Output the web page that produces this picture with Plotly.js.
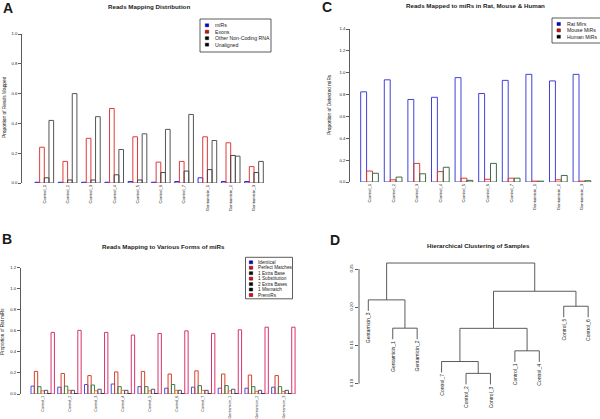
<!DOCTYPE html>
<html><head><meta charset="utf-8">
<script src="https://cdn.plot.ly/plotly-3.0.1.min.js"></script>
<style>html,body{margin:0;padding:0;background:#fff}#chart{width:600px;height:419px}</style>
</head><body><div id="chart"></div>
<script>
// ---------- shared categories ----------
const samples = ["Control_1","Control_2","Control_3","Control_4","Control_5","Control_6","Control_7","Gentamicin_1","Gentamicin_2","Gentamicin_3"];

// ---------- Panel A: Reads Mapping Distribution ----------
const mappingSeries = ["miRs","Exons","Other Non-Coding RNA","Unaligned"];
const mirs      = [0.005,0.005,0.005,0.005,0.010,0.005,0.010,0.035,0.010,0.010];
const exons     = [0.240,0.145,0.300,0.500,0.310,0.140,0.145,0.310,0.270,0.110];
const otherNC   = [0.035,0.020,0.020,0.055,0.020,0.070,0.080,0.090,0.185,0.070];
const unaligned = [0.420,0.600,0.445,0.225,0.330,0.360,0.460,0.285,0.180,0.145];
const aTicks = [0,0.2,0.4,0.6,0.8,1.0];

// ---------- Panel B: Reads Mapping to Various Forms of miRs ----------
const formSeries = ["Identical","Perfect Matches","1 Extra Base","1 Substitution","2 Extra Bases","1 Mismatch","PremiRs"];
const identical      = [0.075,0.065,0.090,0.095,0.070,0.055,0.065,0.055,0.055,0.065];
const perfectMatches = [0.215,0.195,0.175,0.210,0.215,0.190,0.220,0.190,0.180,0.175];
const extraBase1     = [0.070,0.075,0.085,0.070,0.070,0.090,0.080,0.080,0.070,0.070];
const substitution1  = [0.030,0.035,0.030,0.035,0.030,0.035,0.035,0.030,0.025,0.025];
const extraBases2    = [0.035,0.035,0.045,0.035,0.045,0.035,0.035,0.045,0.035,0.035];
const mismatch1      = [0.002,0.002,0.002,0.002,0.002,0.002,0.002,0.002,0.002,0.002];
const premirs        = [0.585,0.605,0.585,0.560,0.575,0.600,0.575,0.610,0.635,0.635];
const bTicks = [0,0.2,0.4,0.6,0.8,1.0,1.2];

// ---------- Panel C: Reads Mapped to miRs in Rat, Mouse & Human ----------
const speciesSeries = ["Rat Mirs","Mouse MiRs","Human MiRs"];
const ratMirs   = [0.825,0.935,0.755,0.775,0.955,0.810,0.930,0.985,0.925,0.985];
const mouseMirs = [0.100,0.020,0.170,0.095,0.035,0.025,0.035,0.008,0.020,0.008];
const humanMirs = [0.080,0.045,0.075,0.135,0.015,0.170,0.035,0.008,0.060,0.012];
const cTicks = [0,0.2,0.4,0.6,0.8,1.0,1.2,1.4];

// ---------- Panel D: Hierarchical Clustering of Samples ----------
const leafOrder   = ["Gentamicin_3","Gentamicin_1","Gentamicin_2","Control_7","Control_2","Control_3","Control_1","Control_4","Control_5","Control_6"];
// R-style merge matrix: negative = leaf (position in leafOrder), positive = earlier merge
const mergeLeft   = [-5,-4,-7,-2, 2,-9,-1, 5, 7];
const mergeRight  = [-6, 1,-8,-3, 3,-10, 4, 6, 8];
const mergeHeight = [0.1135,0.1290,0.1430,0.1726,0.1724,0.2013,0.2096,0.2209,0.2578];
const dTicks = [0.10,0.15,0.20,0.25];

// ---------- helpers ----------
const W = 600, H = 419;
const FONT = "Liberation Sans, Arial, Helvetica, sans-serif";
const TXT = "#1a1a1a";
const px = x => x / W;
const py = y => 1 - y / H;

function barTraces(values, colors, xa, ya){
  const n = values.length, w = 1/(n+1);
  return values.map((v,i)=>({
    type:'bar', x:samples, y:v, xaxis:xa, yaxis:ya,
    width:w, offset:-n*w/2 + i*w,
    marker:{color:'rgba(255,255,255,0)', line:{color:colors[i], width:1}},
    hoverinfo:'skip', showlegend:false
  }));
}

const aColors = ["#2b2bd8","#e23a3a","#444444","#555555"];
const bColors = ["#4a4ae0","#d8402a","#3f7d52","#e8782a","#5a4c6e","#222222","#d8336e"];
const cColors = ["#4040dc","#dd3a2a","#3d6b48"];

const traces = [
  ...barTraces([mirs,exons,otherNC,unaligned], aColors, 'x', 'y'),
  ...barTraces([identical,perfectMatches,extraBase1,substitution1,extraBases2,mismatch1,premirs], bColors, 'x2', 'y2'),
  ...barTraces([ratMirs,mouseMirs,humanMirs], cColors, 'x3', 'y3')
];

// dendrogram segments from merge data
const hang = 0.1*(Math.max(...mergeHeight) - Math.min(...mergeHeight));
const nodeX = [], leafBottom = {};
const dx = [], dy = [];
function childInfo(c, h){
  if (c < 0){ const k = -c; leafBottom[k] = h - hang; return {x:k, bottom:h - hang}; }
  return {x:nodeX[c-1], bottom:mergeHeight[c-1]};
}
mergeLeft.forEach((a,i)=>{
  const h = mergeHeight[i];
  const L = childInfo(a,h), R = childInfo(mergeRight[i],h);
  nodeX[i] = (L.x + R.x)/2;
  dx.push(L.x, L.x, R.x, R.x, null);
  dy.push(L.bottom, h, h, R.bottom, null);
});
traces.push({type:'scatter', mode:'lines', x:dx, y:dy, xaxis:'x4', yaxis:'y4',
  line:{color:'#4a4a4a', width:0.9}, hoverinfo:'skip', showlegend:false, cliponaxis:false});

// ---------- axes ----------
function catX(domL, domR, start, end, fs){
  return {domain:[px(domL),px(domR)], range:[start,end], type:'category', showline:false, ticks:'',
    tickangle:-90, tickfont:{size:fs, color:TXT, family:FONT}, showgrid:false, zeroline:false, fixedrange:true};
}
function valY(domB, domT, range, tv, dec, anchor){
  return {domain:[py(domB),py(domT)], range:range, tickvals:tv, ticktext:tv.map(v=>v.toFixed(dec)),
    ticks:'outside', ticklen:3, tickwidth:0.8, tickcolor:'#333', showline:true, linecolor:'#333', linewidth:0.8,
    tickfont:{size:4.2, color:TXT, family:FONT}, showgrid:false, zeroline:false, anchor:anchor, fixedrange:true};
}

const layout = {
  width:W, height:H, margin:{l:0,r:0,t:0,b:0}, paper_bgcolor:'#fff', plot_bgcolor:'rgba(0,0,0,0)',
  showlegend:false, barmode:'overlay', font:{family:FONT, color:TXT},
  xaxis:  Object.assign(catX(22, 270, -0.957, 9.687, 4.3), {anchor:'y'}),
  yaxis:  valY(183, 34, [0,1.0], aTicks, 1, 'x'),
  xaxis2: Object.assign(catX(20.7, 298, -0.823, 9.547, 3.7), {anchor:'y2'}),
  yaxis2: valY(394, 267.7, [0,1.2], bTicks, 1, 'x2'),
  xaxis3: Object.assign(catX(350, 595, -0.828, 9.553, 4.3), {anchor:'y3'}),
  yaxis3: valY(182, 29, [0,1.4], cTicks, 1, 'x3'),
  xaxis4: {domain:[px(359),px(595)], range:[0.619,10.28], visible:false, anchor:'y4', fixedrange:true},
  yaxis4: Object.assign(valY(385.2, 262, [0.09804,0.25915], dTicks, 2, 'x4'), {showline:false, tickangle:-90}),
  shapes:[], annotations:[]
};

// D axis line (R draws it from first to last tick)
layout.shapes.push({type:'line', xref:'paper', yref:'y4', x0:px(359), x1:px(359), y0:dTicks[0], y1:dTicks[dTicks.length-1], line:{color:'#333', width:0.8}});

// dendrogram leaf labels
leafOrder.forEach((lab,i)=>{
  const k = i+1;
  layout.annotations.push({xref:'x4', yref:'y4', x:k, y:leafBottom[k], text:lab, showarrow:false,
    textangle:-90, xanchor:'center', yanchor:'top', yshift:-0.5, borderpad:0, font:{size:5, color:TXT, family:FONT}});
});

function note(x, y, text, size, opts){
  layout.annotations.push(Object.assign({xref:'paper', yref:'paper', x:px(x), y:py(y), text:text, showarrow:false,
    xanchor:'center', yanchor:'middle', borderpad:0, font:{size:size, color:TXT, family:FONT}}, opts||{}));
}

// panel letters
note(2, 8, "<b>A</b>", 14, {xanchor:'left'});
note(1, 239, "<b>B</b>", 14, {xanchor:'left'});
note(321, 7, "<b>C</b>", 14, {xanchor:'left'});
note(329, 240, "<b>D</b>", 14, {xanchor:'left'});

// titles
note(149, 6.5, "<b>Reads Mapping Distribution</b>", 6.2);
note(163, 246.5, "<b>Reads Mapping to Various Forms of miRs</b>", 6.2);
note(475, 6, "<b>Reads Mapped to miRs in Rat, Mouse &amp; Human</b>", 6.2);
note(478, 245, "<b>Hierarchical Clustering of Samples</b>", 6.2);

// y-axis titles
note(5, 107, "Proportion of Reads Mapped", 4.8, {textangle:-90});
note(1.8, 331, "Proportion of Rat miRs", 4.6, {textangle:-90});
note(329, 105, "Proportion of Detected miRs", 4.8, {textangle:-90});

// legends (R-style boxes with filled squares)
function legendBox(x0, y0, x1, y1, sqX, txtX, rowY0, rowStep, names, fills, size){
  layout.shapes.push({type:'rect', xref:'paper', yref:'paper', x0:px(x0), x1:px(x1), y0:py(y0), y1:py(y1),
    line:{color:'#333', width:0.8}, fillcolor:'rgba(255,255,255,0)'});
  names.forEach((nm,i)=>{
    const yy = rowY0 + i*rowStep;
    layout.shapes.push({type:'rect', xref:'paper', yref:'paper', x0:px(sqX-1.7), x1:px(sqX+1.7), y0:py(yy+1.5), y1:py(yy-1.5),
      line:{color:'#111', width:0.5}, fillcolor:fills[i]});
    note(txtX, yy, nm, size, {xanchor:'left'});
  });
}
legendBox(200, 19, 271, 52, 207, 213.5, 25.3, 6.45, mappingSeries, ["#0000ff","#ff0000","#000000","#000000"], 5.2);
legendBox(245.5, 257.3, 292.5, 298.8, 251, 257, 262.3, 5.45, formSeries, ["#0000ff","#ff0000","#000000","#ff0000","#000000","#000000","#ff0000"], 4.7);
legendBox(552, 18, 601, 43, 558.7, 565.5, 24, 6.35, speciesSeries, ["#0000ff","#ff0000","#000000"], 5.2);

Plotly.newPlot('chart', traces, layout, {displayModeBar:false, staticPlot:true});
</script>
</body></html>
